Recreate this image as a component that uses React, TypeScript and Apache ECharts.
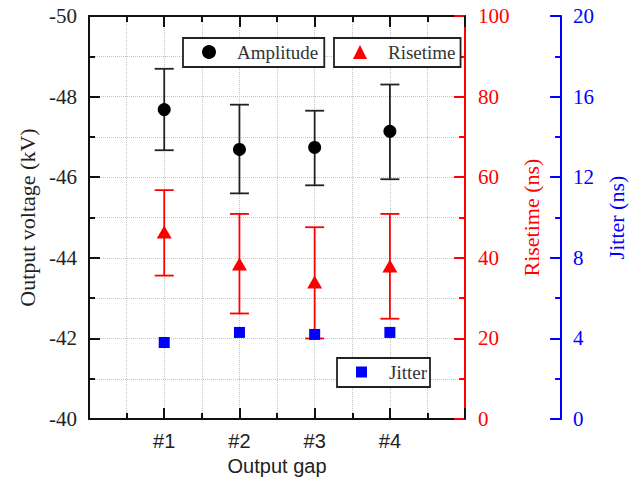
import React, { useEffect, useRef } from "react";
import * as echarts from "echarts";

const categories = ["#1", "#2", "#3", "#4"];
const amplitude = [-47.68, -46.69, -46.74, -47.14];
const amplitudeLow = [-48.69, -47.8, -47.65, -48.3];
const amplitudeHigh = [-46.67, -45.6, -45.8, -45.95];
const risetime = [46.4, 38.5, 34.0, 38.0];
const risetimeLow = [35.6, 26.2, 20.0, 24.9];
const risetimeHigh = [56.8, 50.9, 47.6, 50.9];
const jitter = [3.8, 4.3, 4.2, 4.3];

const SERIF = '"Liberation Serif", "Times New Roman", serif';
const SANS = '"Liberation Sans", Arial, sans-serif';
const RED = "#ff0000";
const BLUE = "#0000ff";
const BLACK = "#111";

function errorBar(color: string) {
  return (params: any, api: any) => {
    const x = api.value(0);
    const p1 = api.coord([x, api.value(1)]);
    const p2 = api.coord([x, api.value(2)]);
    const hw = 9.5;
    const style = { stroke: color, lineWidth: 1.8 };
    return {
      type: "group",
      children: [
        { type: "line", shape: { x1: p1[0], y1: p1[1], x2: p2[0], y2: p2[1] }, style },
        { type: "line", shape: { x1: p1[0] - hw, y1: p1[1], x2: p1[0] + hw, y2: p1[1] }, style },
        { type: "line", shape: { x1: p2[0] - hw, y1: p2[1], x2: p2[0] + hw, y2: p2[1] }, style },
      ],
    };
  };
}

export default function App() {
  const ref = useRef<HTMLDivElement>(null);
  useEffect(() => {
    if (!ref.current) return;
    const chart = echarts.init(ref.current, null, { renderer: "svg" });
    const xs = categories.map((_, i) => i + 1);
    const gridLine = { show: true, lineStyle: { color: "#c4c4c4", type: "dotted", width: 1 } };
    const legendBase = {
      orient: "horizontal",
      selectedMode: false,
      backgroundColor: "#fff",
      borderColor: "#222",
      borderWidth: 1.8,
      borderRadius: 0,
      itemHeight: 14,
      itemWidth: 14,
      itemStyle: { opacity: 1 },
      textStyle: { fontFamily: SERIF, fontSize: 19, color: "#333", lineHeight: 20, padding: [0, 0, 0, 16] },
    };
    chart.setOption({
      animation: false,
      backgroundColor: "#fff",
      grid: { left: 89, right: 163, top: 16, bottom: 60, containLabel: false },
      legend: [
        { ...legendBase, left: 183, top: 38, padding: [4, 6, 5, 19], data: [{ name: "Amplitude", icon: "circle" }] },
        { ...legendBase, left: 334, top: 38, padding: [4, 5, 5, 19], data: [{ name: "Risetime", icon: "triangle" }] },
        {
          ...legendBase,
          left: 337,
          top: 358,
          itemWidth: 11,
          itemHeight: 11,
          padding: [4, 3, 5, 19],
          textStyle: { ...legendBase.textStyle, padding: [0, 0, 0, 17] },
          data: [{ name: "Jitter", icon: "rect" }],
        },
      ],
      xAxis: [
        {
          type: "value",
          position: "bottom",
          min: 0,
          max: 5,
          interval: 1,
          name: "Output gap",
          nameLocation: "middle",
          nameGap: 32,
          nameTextStyle: { fontFamily: SANS, fontSize: 20, color: "#222" },
          axisLine: { show: true, onZero: false, lineStyle: { color: BLACK, width: 2 } },
          axisTick: { show: true, inside: true, length: 11, lineStyle: { color: BLACK, width: 2 } },
          minorTick: { show: true, splitNumber: 2, length: 6, lineStyle: { color: BLACK, width: 2 } },
          splitLine: gridLine,
          minorSplitLine: gridLine,
          axisLabel: {
            margin: 12,
            fontFamily: SANS,
            fontSize: 20,
            color: "#222",
            formatter: (v: number) => (v >= 1 && v <= categories.length ? categories[Math.round(v) - 1] : ""),
          },
        },
        {
          type: "value",
          position: "top",
          min: 0,
          max: 5,
          interval: 1,
          axisLine: { show: true, onZero: false, lineStyle: { color: BLACK, width: 2 } },
          axisTick: { show: true, inside: true, length: 11, lineStyle: { color: BLACK, width: 2 } },
          minorTick: { show: true, splitNumber: 2, length: 6, lineStyle: { color: BLACK, width: 2 } },
          splitLine: { show: false },
          axisLabel: { show: false },
        },
      ],
      yAxis: [
        {
          type: "value",
          position: "left",
          inverse: true,
          min: -50,
          max: -40,
          interval: 2,
          name: "Output voltage (kV)",
          nameLocation: "middle",
          nameGap: 51,
          nameRotate: 90,
          nameTextStyle: { fontFamily: SERIF, fontSize: 22, color: "#222" },
          axisLine: { show: true, onZero: false, lineStyle: { color: BLACK, width: 2 } },
          axisTick: { show: true, inside: true, length: 11, lineStyle: { color: BLACK, width: 2 } },
          minorTick: { show: true, splitNumber: 2, length: 6, lineStyle: { color: BLACK, width: 2 } },
          splitLine: gridLine,
          minorSplitLine: gridLine,
          axisLabel: { margin: 12, fontFamily: SERIF, fontSize: 21, color: "#222" },
        },
        {
          type: "value",
          position: "right",
          min: 0,
          max: 100,
          interval: 20,
          name: "Risetime (ns)",
          nameLocation: "middle",
          nameGap: 47,
          nameRotate: 90,
          nameTextStyle: { fontFamily: SERIF, fontSize: 22, color: RED },
          axisLine: { show: true, onZero: false, lineStyle: { color: RED, width: 2 } },
          axisTick: { show: true, inside: true, length: 11, lineStyle: { color: RED, width: 2 } },
          minorTick: { show: true, splitNumber: 2, length: 6, lineStyle: { color: RED, width: 2 } },
          splitLine: { show: false },
          axisLabel: { margin: 13, fontFamily: SERIF, fontSize: 21, color: RED },
        },
        {
          type: "value",
          position: "right",
          offset: 96,
          min: 0,
          max: 20,
          interval: 4,
          name: "Jitter (ns)",
          nameLocation: "middle",
          nameGap: 37,
          nameRotate: 90,
          nameTextStyle: { fontFamily: SERIF, fontSize: 22, color: BLUE },
          axisLine: { show: true, onZero: false, lineStyle: { color: BLUE, width: 2 } },
          axisTick: { show: true, inside: true, length: 11, lineStyle: { color: BLUE, width: 2 } },
          minorTick: { show: true, splitNumber: 2, length: 6, lineStyle: { color: BLUE, width: 2 } },
          splitLine: { show: false },
          axisLabel: { margin: 12, fontFamily: SERIF, fontSize: 21, color: BLUE },
        },
      ],
      series: [
        {
          name: "AmplitudeErr",
          type: "custom",
          xAxisIndex: 0,
          yAxisIndex: 0,
          renderItem: errorBar("#222"),
          data: xs.map((x, i) => [x, amplitudeLow[i], amplitudeHigh[i]]),
          z: 2,
        },
        {
          name: "RisetimeErr",
          type: "custom",
          xAxisIndex: 0,
          yAxisIndex: 1,
          renderItem: errorBar(RED),
          data: xs.map((x, i) => [x, risetimeLow[i], risetimeHigh[i]]),
          z: 2,
        },
        {
          name: "Amplitude",
          type: "scatter",
          xAxisIndex: 0,
          yAxisIndex: 0,
          symbol: "circle",
          symbolSize: 13,
          itemStyle: { color: "#000", opacity: 1 },
          data: xs.map((x, i) => [x, amplitude[i]]),
          z: 3,
        },
        {
          name: "Risetime",
          type: "scatter",
          xAxisIndex: 0,
          yAxisIndex: 1,
          symbol: "triangle",
          symbolSize: [15, 13],
          itemStyle: { color: RED, opacity: 1 },
          data: xs.map((x, i) => [x, risetime[i]]),
          z: 3,
        },
        {
          name: "Jitter",
          type: "scatter",
          xAxisIndex: 0,
          yAxisIndex: 2,
          symbol: "rect",
          symbolSize: 11,
          itemStyle: { color: BLUE, opacity: 1 },
          data: xs.map((x, i) => [x, jitter[i]]),
          z: 3,
        },
      ],
    });
    return () => chart.dispose();
  }, []);
  return (
    <div
      ref={ref}
      style={{ position: "fixed", left: 0, top: 0, width: 635, height: 481, background: "#fff" }}
    />
  );
}
